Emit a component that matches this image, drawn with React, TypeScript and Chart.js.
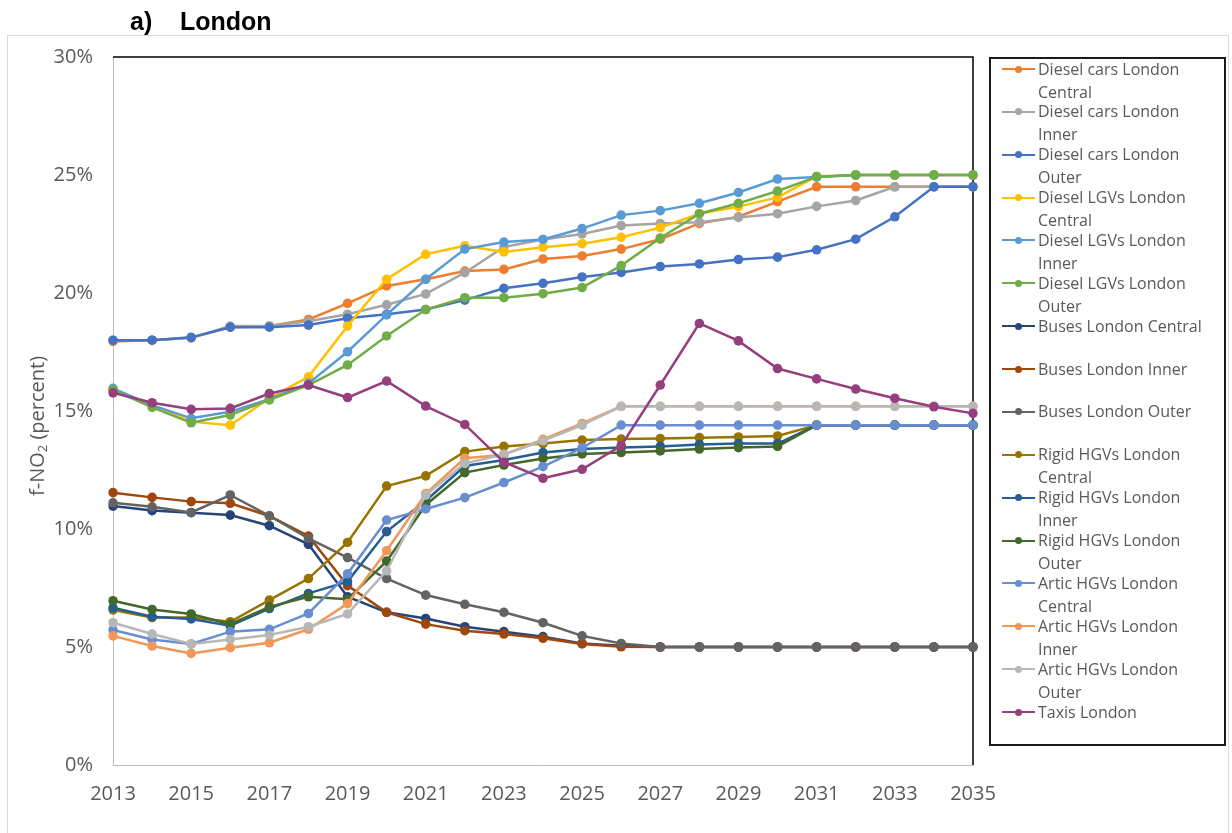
import React, { useEffect, useRef } from 'react';
import { Chart, registerables } from 'chart.js';

Chart.register(...registerables);

const years = ['2013', '2014', '2015', '2016', '2017', '2018', '2019', '2020', '2021', '2022', '2023', '2024', '2025', '2026', '2027', '2028', '2029', '2030', '2031', '2032', '2033', '2034', '2035'];
const xTickLabels = ['2013', '2015', '2017', '2019', '2021', '2023', '2025', '2027', '2029', '2031', '2033', '2035'];
const yTickValues = [0, 5, 10, 15, 20, 25, 30];

const seriesNames = [
  'Diesel cars London Central',
  'Diesel cars London Inner',
  'Diesel cars London Outer',
  'Diesel LGVs London Central',
  'Diesel LGVs London Inner',
  'Diesel LGVs London Outer',
  'Buses London Central',
  'Buses London Inner',
  'Buses London Outer',
  'Rigid HGVs London Central',
  'Rigid HGVs London Inner',
  'Rigid HGVs London Outer',
  'Artic HGVs London Central',
  'Artic HGVs London Inner',
  'Artic HGVs London Outer',
  'Taxis London',
];

const seriesColors = [
  '#ED7D31', '#A5A5A5', '#4472C4', '#FFC000', '#5B9BD5', '#70AD47',
  '#264478', '#9E480E', '#636363', '#997300', '#255E91', '#43682B',
  '#698ED0', '#F1975A', '#B7B7B7', '#953F7F',
];

const dieselCarsCentral = [17.95, 18.0, 18.1, 18.55, 18.6, 18.88, 19.56, 20.3, 20.58, 20.93, 21.0, 21.44, 21.57, 21.86, 22.28, 22.95, 23.23, 23.87, 24.5, 24.5, 24.5, 24.5, 24.5];
const dieselCarsInner = [18.0, 18.0, 18.1, 18.6, 18.6, 18.8, 19.1, 19.5, 19.96, 20.86, 21.95, 22.27, 22.5, 22.86, 22.94, 23.0, 23.2, 23.36, 23.67, 23.92, 24.5, 24.5, 24.5];
const dieselCarsOuter = [18.0, 18.0, 18.12, 18.55, 18.55, 18.64, 18.93, 19.1, 19.3, 19.7, 20.2, 20.41, 20.68, 20.87, 21.12, 21.23, 21.42, 21.52, 21.83, 22.28, 23.23, 24.5, 24.5];
const dieselLGVsCentral = [15.9, 15.25, 14.55, 14.4, 15.54, 16.45, 18.6, 20.58, 21.64, 22.0, 21.74, 21.94, 22.09, 22.36, 22.77, 23.36, 23.66, 24.05, 24.95, 25.0, 25.0, 25.0, 25.0];
const dieselLGVsInner = [15.96, 15.25, 14.69, 14.97, 15.5, 16.17, 17.51, 19.07, 20.58, 21.86, 22.16, 22.27, 22.73, 23.3, 23.49, 23.8, 24.26, 24.83, 24.92, 25.0, 25.0, 25.0, 25.0];
const dieselLGVsOuter = [15.9, 15.15, 14.5, 14.83, 15.47, 16.1, 16.95, 18.18, 19.3, 19.8, 19.8, 19.97, 20.23, 21.16, 22.33, 23.36, 23.8, 24.32, 24.92, 25.0, 25.0, 25.0, 25.0];
const busesCentral = [10.97, 10.78, 10.69, 10.59, 10.14, 9.35, 7.13, 6.47, 6.21, 5.86, 5.65, 5.44, 5.15, 5.05, 5.0, 5.0, 5.0, 5.0, 5.0, 5.0, 5.0, 5.0, 5.0];
const busesInner = [11.54, 11.34, 11.16, 11.09, 10.55, 9.7, 7.6, 6.47, 5.97, 5.69, 5.55, 5.37, 5.13, 5.01, 5.0, 5.0, 5.0, 5.0, 5.0, 5.0, 5.0, 5.0, 5.0];
const busesOuter = [11.11, 10.94, 10.7, 11.44, 10.56, 9.6, 8.79, 7.9, 7.2, 6.81, 6.47, 6.03, 5.47, 5.15, 5.0, 5.0, 5.0, 5.0, 5.0, 5.0, 5.0, 5.0, 5.0];
const rigidHGVsCentral = [6.57, 6.25, 6.25, 6.07, 6.99, 7.9, 9.43, 11.82, 12.25, 13.28, 13.5, 13.62, 13.77, 13.81, 13.83, 13.87, 13.9, 13.94, 14.4, 14.4, 14.4, 14.4, 14.4];
const rigidHGVsInner = [6.66, 6.28, 6.19, 5.9, 6.63, 7.27, 7.77, 9.89, 11.2, 12.67, 12.92, 13.24, 13.39, 13.45, 13.5, 13.58, 13.62, 13.62, 14.4, 14.4, 14.4, 14.4, 14.4];
const rigidHGVsOuter = [6.96, 6.59, 6.4, 5.97, 6.7, 7.13, 7.02, 8.64, 11.02, 12.39, 12.71, 12.99, 13.18, 13.24, 13.31, 13.39, 13.45, 13.5, 14.4, 14.4, 14.4, 14.4, 14.4];
const articHGVsCentral = [5.72, 5.32, 5.13, 5.65, 5.75, 6.42, 8.1, 10.38, 10.85, 11.33, 11.97, 12.64, 13.44, 14.4, 14.4, 14.4, 14.4, 14.4, 14.4, 14.4, 14.4, 14.4, 14.4];
const articHGVsInner = [5.47, 5.04, 4.73, 4.97, 5.18, 5.75, 6.84, 9.08, 11.5, 13.0, 13.15, 13.8, 14.47, 15.2, 15.2, 15.2, 15.2, 15.2, 15.2, 15.2, 15.2, 15.2, 15.2];
const articHGVsOuter = [6.03, 5.55, 5.13, 5.32, 5.51, 5.86, 6.4, 8.23, 11.44, 12.78, 13.16, 13.74, 14.4, 15.2, 15.2, 15.2, 15.2, 15.2, 15.2, 15.2, 15.2, 15.2, 15.2];
const taxis = [15.77, 15.35, 15.07, 15.11, 15.74, 16.1, 15.57, 16.27, 15.21, 14.43, 12.83, 12.15, 12.53, 13.53, 16.1, 18.71, 17.97, 16.8, 16.36, 15.93, 15.54, 15.18, 14.9];

const seriesValues = [
  dieselCarsCentral, dieselCarsInner, dieselCarsOuter,
  dieselLGVsCentral, dieselLGVsInner, dieselLGVsOuter,
  busesCentral, busesInner, busesOuter,
  rigidHGVsCentral, rigidHGVsInner, rigidHGVsOuter,
  articHGVsCentral, articHGVsInner, articHGVsOuter,
  taxis,
];

const W = 1232;
const H = 833;
const AREA = { left: 113, top: 57, right: 973, bottom: 765 };
const TEXT_GREY = '#595959';
const FONT = "'Open Sans', 'DejaVu Sans', sans-serif";

const framePlugin = {
  id: 'frame',
  beforeDatasetsDraw(chart: any) {
    const { ctx, chartArea } = chart;
    ctx.save();
    ctx.strokeStyle = '#000000';
    ctx.lineWidth = 1.5;
    ctx.beginPath();
    ctx.moveTo(chartArea.left, chartArea.top);
    ctx.lineTo(chartArea.right, chartArea.top);
    ctx.lineTo(chartArea.right, chartArea.bottom);
    ctx.stroke();
    ctx.restore();
  },
};

const yTitlePlugin = {
  id: 'yTitle',
  afterDraw(chart: any) {
    const { ctx } = chart;
    const parts: [string, number, number][] = [
      ['f-NO', 20, 0],
      ['2', 13, 5],
      [' (percent)', 20, 0],
    ];
    ctx.save();
    ctx.translate(38, 426);
    ctx.rotate(-Math.PI / 2);
    ctx.fillStyle = TEXT_GREY;
    ctx.textBaseline = 'middle';
    ctx.textAlign = 'left';
    let total = 0;
    for (const [t, s] of parts) {
      ctx.font = `${s}px ${FONT}`;
      total += ctx.measureText(t).width;
    }
    let x = -total / 2;
    for (const [t, s, dy] of parts) {
      ctx.font = `${s}px ${FONT}`;
      ctx.fillText(t, x, dy);
      x += ctx.measureText(t).width;
    }
    ctx.restore();
  },
};

function splitName(name: string): [string, string] {
  const words = name.split(' ');
  if (words.length > 3) return [words.slice(0, 3).join(' '), words.slice(3).join(' ')];
  return [name, ''];
}

export default function App() {
  const canvasRef = useRef<HTMLCanvasElement | null>(null);

  useEffect(() => {
    if (!canvasRef.current) return;
    const n = seriesValues.length;
    const chart = new Chart(canvasRef.current, {
      type: 'line',
      data: {
        labels: years,
        datasets: seriesValues.map((vals, i) => ({
          label: seriesNames[i],
          data: vals,
          borderColor: seriesColors[i],
          backgroundColor: seriesColors[i],
          pointBackgroundColor: seriesColors[i],
          pointBorderColor: seriesColors[i],
          borderWidth: 2.5,
          pointRadius: 4.8,
          pointBorderWidth: 0,
          tension: 0,
          fill: false,
          order: n - i,
        })),
      },
      options: {
        animation: false,
        responsive: false,
        devicePixelRatio: 1,
        layout: { padding: { left: 0, top: AREA.top, right: W - AREA.right, bottom: 0 } },
        plugins: {
          legend: { display: false },
          tooltip: { enabled: false },
          title: { display: false },
        },
        scales: {
          x: {
            type: 'category',
            grid: { display: false, drawTicks: false },
            border: { display: true, color: '#BFBFBF', width: 1 },
            ticks: {
              autoSkip: false,
              maxRotation: 0,
              minRotation: 0,
              padding: 17,
              color: TEXT_GREY,
              font: { family: FONT, size: 20 },
              callback: (_v: any, index: number) => (xTickLabels.includes(years[index]) ? years[index] : ''),
            },
            afterFit: (scale: any) => {
              scale.height = H - AREA.bottom;
            },
          },
          y: {
            type: 'linear',
            min: 0,
            max: 30,
            grid: { display: false, drawTicks: false },
            border: { display: true, color: '#BFBFBF', width: 1 },
            afterBuildTicks: (scale: any) => {
              scale.ticks = yTickValues.map((v) => ({ value: v }));
            },
            ticks: {
              padding: 20,
              color: TEXT_GREY,
              font: { family: FONT, size: 20 },
              callback: (v: any) => `${v}%`,
            },
            afterFit: (scale: any) => {
              scale.width = AREA.left;
            },
          },
        },
      },
      plugins: [framePlugin, yTitlePlugin],
    } as any);
    return () => chart.destroy();
  }, []);

  const legendTop = 57;
  const firstLineCenter = 69;
  const pitch = 42.87;
  const titleFont = `bold 25px 'Liberation Sans', Arial, sans-serif`;

  return (
    <div style={{ position: 'fixed', left: 0, top: 0, width: W, height: H, overflow: 'hidden', background: '#fff' }}>
      <div style={{ position: 'absolute', left: 7, top: 35, width: 1222, height: 900, border: '1px solid #D9D9D9', boxSizing: 'border-box' }} />
      <canvas ref={canvasRef} width={W} height={H} style={{ position: 'absolute', left: 0, top: 0, width: W, height: H, display: 'block' }} />
      <div style={{ position: 'absolute', left: 130, top: 7, font: titleFont, color: '#000', lineHeight: '28px', whiteSpace: 'nowrap' }}>a)</div>
      <div style={{ position: 'absolute', left: 180, top: 7, font: titleFont, color: '#000', lineHeight: '28px', whiteSpace: 'nowrap' }}>London</div>
      <div style={{ position: 'absolute', left: 989, top: legendTop, width: 237, height: 689, border: '2px solid #1A1A1A', boxSizing: 'border-box' }} />
      {seriesNames.map((name, i) => {
        const [l1, l2] = splitName(name);
        const cy = firstLineCenter + i * pitch;
        return (
          <div key={name} style={{ position: 'absolute', left: 1000, top: cy - 11.5, height: 46 }}>
            <div style={{ position: 'absolute', left: 2, top: 10.5, width: 33, height: 2, background: seriesColors[i] }} />
            <div style={{ position: 'absolute', left: 14.5, top: 8, width: 7, height: 7, borderRadius: '50%', background: seriesColors[i] }} />
            <div style={{ position: 'absolute', left: 38, top: 0, font: `16px ${FONT}`, color: TEXT_GREY, lineHeight: '23px', whiteSpace: 'nowrap' }}>
              <div>{l1}</div>
              {l2 ? <div>{l2}</div> : null}
            </div>
          </div>
        );
      })}
    </div>
  );
}
